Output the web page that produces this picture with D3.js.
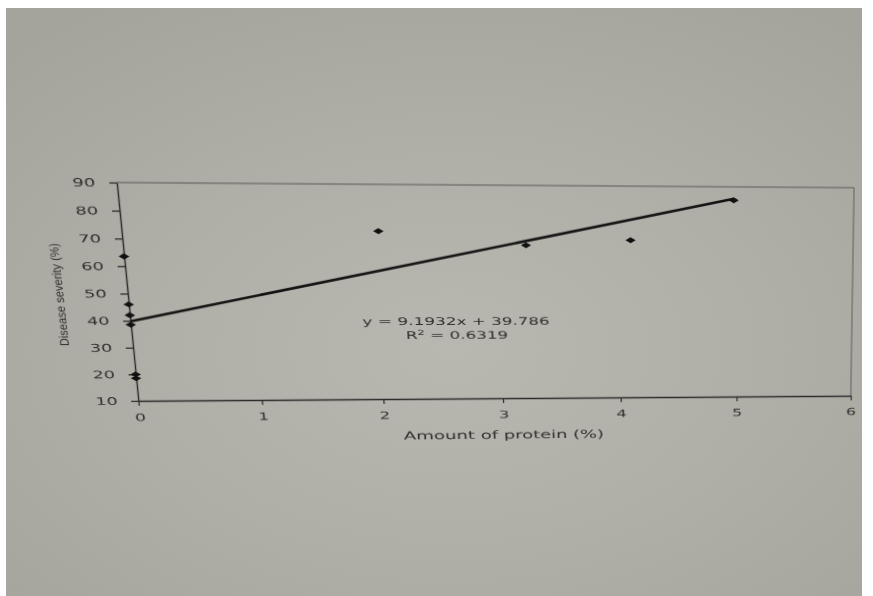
<!DOCTYPE html>
<html>
<head>
<meta charset="utf-8">
<script src="https://cdn.jsdelivr.net/npm/d3@7"></script>
<style>
html, body { margin: 0; padding: 0; background: #fff; }
#paper {
    position: absolute; left: 6px; top: 8px; width: 856px; height: 588px;
    background: radial-gradient(ellipse 75% 70% at 52% 58%, #b8b7b0 0%, #afaea7 50%, #a4a39c 100%);
}
#chart { position: absolute; left: 0; top: 0; width: 873px; height: 596px; transform-origin: 0 0; }
</style>
</head>
<body>
<div id="paper"></div>
<div id="chart"></div>
<script>
// data
const protein  = [0, 0, 0, 0, 0, 0, 2.04, 3.24, 4.11, 4.98];
const severity = [63.5, 46, 42, 38.5, 20, 18.5, 73, 68, 70, 85];
const xTicks = [0, 1, 2, 3, 4, 5, 6];
const yTicks = [10, 20, 30, 40, 50, 60, 70, 80, 90];
const slope = 9.1932, intercept = 39.786;
const eqText = "y = 9.1932x + 39.786";
const r2Text = " = 0.6319";
const eqAt = [2.64, 38.2];   // where the trendline label sits (data units)
const xTitle = "Amount of protein (%)";
const yTitle = "Disease severity (%)";

const L = 128, T = 185, R = 852, B = 398;
const ink = "#2a2a28", textCol = "#302f2c";
const stretch = 1.6;   // the printed fonts come out wide

const svg = d3.select("#chart").append("svg")
    .attr("width", 873).attr("height", 596);

const x = d3.scaleLinear().domain([0, 6]).range([L, R]);
const y = d3.scaleLinear().domain([10, 90]).range([B, T]);

// thin frame on top and right
svg.append("path")
    .attr("d", `M${L},${T}H${R}V${B}`)
    .attr("fill", "none").attr("stroke", "#5d5c58").attr("stroke-width", 1);

const xAxis = svg.append("g")
    .attr("transform", `translate(0,${B})`)
    .call(d3.axisBottom(x).tickValues(xTicks).tickFormat(d3.format("d"))
        .tickSize(5).tickPadding(8).tickSizeOuter(0));
const yAxis = svg.append("g")
    .attr("transform", `translate(${L},0)`)
    .call(d3.axisLeft(y).tickValues(yTicks).tickFormat(d3.format("d"))
        .tickSize(7).tickSizeOuter(0));

[xAxis, yAxis].forEach(g => {
    g.select(".domain").attr("stroke", ink).attr("stroke-width", 1.4);
    g.selectAll(".tick line").attr("stroke", ink).attr("stroke-width", 1.2);
    g.selectAll(".tick text")
        .attr("fill", textCol)
        .style("font-family", "'DejaVu Sans', sans-serif")
        .style("font-size", "10.5px");
});
// widen the labels around their anchor
xAxis.selectAll(".tick text").attr("transform", `scale(${stretch},1)`);
yAxis.selectAll(".tick text")
    .attr("x", -20 / stretch)
    .attr("transform", `scale(${stretch},1)`);

// trendline from first to last x
const xr = d3.extent(protein);
svg.append("path")
    .attr("d", d3.line()(xr.map(v => [x(v), y(slope * v + intercept)])))
    .attr("stroke", "#141414").attr("stroke-width", 2.6).attr("fill", "none");

// diamond markers
svg.append("g").selectAll("path")
    .data(protein.map((p, i) => [p, severity[i]]))
    .enter()
    .append("path")
    .attr("d", d3.symbol().type(d3.symbolDiamond).size(30))
    .attr("transform", d => `translate(${x(d[0])},${y(d[1])}) rotate(90)`)
    .attr("fill", "#111");

// equation label
const eq = svg.append("g")
    .style("font-family", "'DejaVu Sans', sans-serif")
    .style("font-size", "10.5px")
    .attr("fill", textCol)
    .attr("text-anchor", "middle");
eq.append("text")
    .attr("transform", `translate(${x(eqAt[0])},${y(eqAt[1])}) scale(${stretch},1)`)
    .text(eqText);
const r2 = eq.append("text")
    .attr("transform", `translate(${x(eqAt[0])},${y(eqAt[1]) + 14}) scale(${stretch},1)`);
r2.append("tspan").text("R");
r2.append("tspan").attr("dy", -4).style("font-size", "7px").text("2");
r2.append("tspan").attr("dy", 4).text(r2Text);

// axis titles
svg.append("text")
    .attr("transform", `translate(${(L + R) / 2},440) scale(${stretch},1)`)
    .attr("text-anchor", "middle")
    .attr("fill", textCol)
    .style("font-family", "'DejaVu Sans', sans-serif")
    .style("font-size", "11.5px")
    .text(xTitle);

svg.append("text")
    .attr("transform", "translate(67,293) rotate(-90)")
    .attr("text-anchor", "middle")
    .attr("fill", textCol)
    .attr("textLength", 100)
    .attr("lengthAdjust", "spacingAndGlyphs")
    .style("font-family", "'Liberation Sans', Arial, sans-serif")
    .style("font-size", "12px")
    .text(yTitle);

// the photo was taken at an angle: warp the flat chart onto the page corners
function homography(src, dst) {
    const A = [], b = [];
    for (let i = 0; i < 4; i++) {
        const [sx, sy] = src[i], [u, v] = dst[i];
        A.push([sx, sy, 1, 0, 0, 0, -sx * u, -sy * u]); b.push(u);
        A.push([0, 0, 0, sx, sy, 1, -sx * v, -sy * v]); b.push(v);
    }
    for (let c = 0; c < 8; c++) {
        let p = c;
        for (let r = c + 1; r < 8; r++) if (Math.abs(A[r][c]) > Math.abs(A[p][c])) p = r;
        [A[c], A[p]] = [A[p], A[c]]; [b[c], b[p]] = [b[p], b[c]];
        for (let r = 0; r < 8; r++) {
            if (r === c) continue;
            const f = A[r][c] / A[c][c];
            for (let k = c; k < 8; k++) A[r][k] -= f * A[c][k];
            b[r] -= f * b[c];
        }
    }
    return b.map((v, i) => v / A[i][i]);
}

const h = homography(
    [[L, T], [L, B], [R, B], [R, T]],
    [[116.7, 182.5], [138.3, 400.8], [850.7, 395.7], [854, 187.7]]
);
d3.select("#chart").style("transform",
    `matrix3d(${h[0]},${h[3]},0,${h[6]},${h[1]},${h[4]},0,${h[7]},0,0,1,0,${h[2]},${h[5]},0,1)`);
</script>
</body>
</html>
